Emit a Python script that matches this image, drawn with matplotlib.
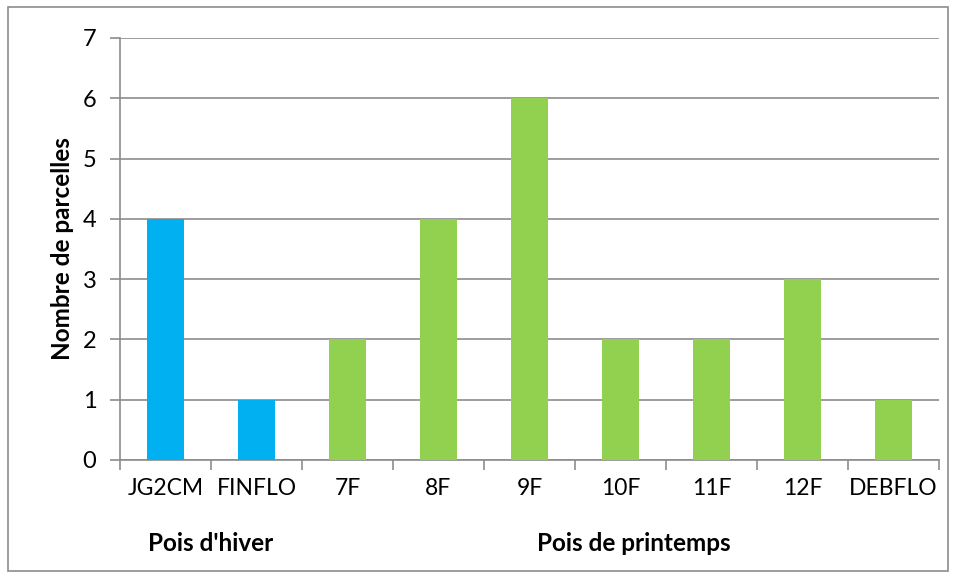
import matplotlib.pyplot as plt
from matplotlib.patches import Rectangle

plt.rcParams['font.family'] = ['Lato', 'DejaVu Sans']

categories = ['JG2CM', 'FINFLO', '7F', '8F', '9F', '10F', '11F', '12F', 'DEBFLO']
values = [4, 1, 2, 4, 6, 2, 2, 3, 1]
groups = ['Pois d\'hiver'] * 2 + ['Pois de printemps'] * 7
group_colors = {'Pois d\'hiver': '#00B0F0', 'Pois de printemps': '#92D050'}
yticks = [0, 1, 2, 3, 4, 5, 6, 7]

fig = plt.figure(figsize=(9.56, 5.78), dpi=100)
ax = fig.add_axes([120 / 956, 1 - 460 / 578, 819 / 956, 422 / 578])

x = list(range(len(categories)))
colors = [group_colors[g] for g in groups]
ax.bar(x, values, width=0.41, color=colors, zorder=3)

ax.set_xlim(-0.5, len(categories) - 0.5)
ax.set_ylim(0, 7)
ax.set_yticks(yticks)
ax.set_yticklabels([str(t) for t in yticks], fontsize=17)
ax.yaxis.grid(True, color='#8c8c8c', linewidth=1.2, zorder=0)
ax.tick_params(axis='y', length=7, width=1.2, color='#8c8c8c', pad=10)

# category ticks at boundaries, labels in centers
ax.set_xticks([i - 0.5 for i in range(len(categories) + 1)])
ax.set_xticklabels([])
ax.set_xticks(x, minor=True)
ax.set_xticklabels(categories, minor=True, fontsize=16.5)
ax.tick_params(axis='x', which='minor', length=0, pad=13)
ax.tick_params(axis='x', which='major', length=7, width=1.2, color='#8c8c8c')

for side in ['top', 'right']:
    ax.spines[side].set_visible(False)
for side in ['left', 'bottom']:
    ax.spines[side].set_color('#8c8c8c')
    ax.spines[side].set_linewidth(1.2)

ax.set_ylabel('Nombre de parcelles', fontsize=17.5, fontweight='bold', labelpad=6)

# group labels below category labels
ax.text(0.5, -0.197, 'Pois d\'hiver', transform=ax.get_xaxis_transform(),
        ha='center', va='center', fontsize=17.5, fontweight='bold')
ax.text(5.15, -0.197, 'Pois de printemps', transform=ax.get_xaxis_transform(),
        ha='center', va='center', fontsize=17.5, fontweight='bold')

# outer chart border
fig.patches.append(Rectangle((8 / 956, 1 - 571 / 578), 940 / 956, 564 / 578,
                             transform=fig.transFigure, fill=False,
                             edgecolor='#8c8c8c', linewidth=1.2))

fig.savefig('out.png', dpi=100)
